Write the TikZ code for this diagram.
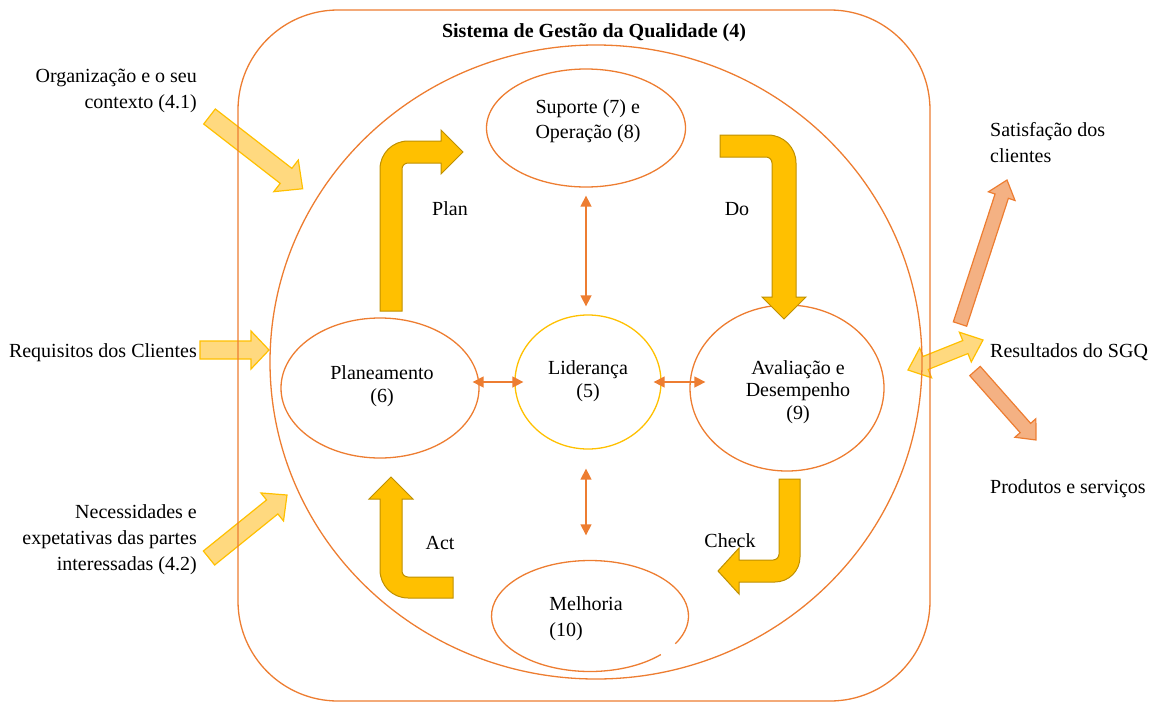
\documentclass[tikz,border=0pt]{standalone}
\usepackage{fontspec}
\setmainfont{Liberation Serif}
\usetikzlibrary{arrows.meta,shapes.geometric}
\definecolor{orng}{HTML}{ED7D31}
\definecolor{gold}{HTML}{FFC000}
\definecolor{goldline}{HTML}{BF9000}
\definecolor{lightgold}{HTML}{FFD97F}
\definecolor{salmon}{HTML}{F4B183}
\newcommand\blockarr[8]{%
  \pgfmathsetmacro\myDX{#4-#2}\pgfmathsetmacro\myDY{#5-#3}%
  \pgfmathsetmacro\myANG{atan2(-\myDY,\myDX)}%
  \pgfmathsetmacro\myLEN{veclen(\myDX,\myDY)}%
  \pgfmathsetmacro\mySW{#6/2}\pgfmathsetmacro\myHW{#7/2}\pgfmathsetmacro\myB{\myLEN-#8}%
  \begin{scope}[shift={(#2,#3)},rotate=\myANG]
  \draw[#1] (0,-\mySW) -- (\myB,-\mySW) -- (\myB,-\myHW) -- (\myLEN,0) -- (\myB,\myHW) -- (\myB,\mySW) -- (0,\mySW) -- cycle;
  \end{scope}}
\newcommand\dblarr[8]{%
  \pgfmathsetmacro\myDX{#4-#2}\pgfmathsetmacro\myDY{#5-#3}%
  \pgfmathsetmacro\myANG{atan2(-\myDY,\myDX)}%
  \pgfmathsetmacro\myLEN{veclen(\myDX,\myDY)}%
  \pgfmathsetmacro\mySW{#6/2}\pgfmathsetmacro\myHW{#7/2}\pgfmathsetmacro\myB{\myLEN-#8}%
  \begin{scope}[shift={(#2,#3)},rotate=\myANG]
  \draw[#1] (0,0) -- (#8,-\myHW) -- (#8,-\mySW) -- (\myB,-\mySW) -- (\myB,-\myHW) -- (\myLEN,0) -- (\myB,\myHW) -- (\myB,\mySW) -- (#8,\mySW) -- (#8,\myHW) -- cycle;
  \end{scope}}
\begin{document}
\begin{tikzpicture}[x=1pt,y=-1pt,
  every node/.style={font=\fontsize{20}{26}\selectfont, inner sep=0pt},
  lightarr/.style={draw=gold, fill=lightgold, line width=1.2},
  salarr/.style={draw=orng, fill=salmon, line width=1.2},
  goldarr/.style={draw=goldline, fill=gold, line width=1},
  ell/.style={ellipse, draw=orng, line width=1.3, inner sep=0pt},
  conn/.style={orng, line width=1.5, {Triangle[length=11pt,width=11pt]}-{Triangle[length=11pt,width=11pt]}},
  tight/.style={font=\fontsize{20}{22.5}\selectfont}]
\useasboundingbox (0,0) rectangle (1159,702);
% input / output block arrows
\blockarr{lightarr}{209.5}{116.5}{303}{189}{19}{40}{21}
\blockarr{lightarr}{200}{350}{269}{350}{18}{38}{18}
\blockarr{lightarr}{209}{558}{287}{495}{18}{36}{19}
\dblarr{lightarr}{908}{370}{983}{340}{14}{32}{19}
\blockarr{salarr}{960}{324}{1007}{180}{14}{28}{17}
\blockarr{salarr}{975}{371}{1036}{440}{14}{28}{16}
% frames
\draw[orng, line width=1.3, rounded corners=100] (238,10) rectangle (930,701);
\node[ell, minimum width=652, minimum height=634] (sgq) at (596,362) {};
\node[font=\fontsize{20}{26}\selectfont\bfseries] (title) at (594,33) {Sistema de Gestão da Qualidade (4)};
% process ellipses
\node[ell, minimum width=199, minimum height=118] (sup) at (586,128) {};
\node[ell, draw=gold, minimum width=146, minimum height=134] (lid) at (588,382) {};
\node[ell, minimum width=198, minimum height=140] (plan) at (380,388) {};
\node[ell, minimum width=194, minimum height=166] (ava) at (787,388) {};
\node[ellipse, inner sep=0pt, minimum width=197, minimum height=111] (mel) at (590,616) {};
\draw[orng, line width=1.3] ([shift={(44:98.5 and 55.5)}]mel.center) arc[start angle=44, end angle=390, x radius=98.5, y radius=55.5];
% texts in ellipses
\node[align=left, font=\fontsize{20}{25}\selectfont] (supt) at (588,121) {Suporte (7) e\\Operação (8)};
\node[align=center, tight] (lidt) at (588,381) {Liderança\\(5)};
\node[align=center, tight] (plant) at (382,386) {Planeamento\\(6)};
\node[align=center, tight] (avat) at (798,392) {Avaliação e\\Desempenho\\(9)};
\node[align=left] (melt) at (586,619) {Melhoria\\(10)};
% PDCA bent arrows
\draw[goldarr] (380,311) -- (380,169) .. controls (380,153.5) and (392.5,141) .. (408,141) -- (441,141) -- (441,130) -- (463,152) -- (441,174) -- (441,163) -- (408,163) .. controls (404.7,163) and (402,165.7) .. (402,169) -- (402,311) -- cycle;
\draw[goldarr] (720,135) -- (768,135) .. controls (783.5,135) and (796,147.5) .. (796,163) -- (796,297) -- (806,297) -- (784,319) -- (762,297) -- (772,297) -- (772,163) .. controls (772,159.7) and (769.3,157) .. (766,157) -- (720,157) -- cycle;
\draw[goldarr] (779,479) -- (800,479) -- (800,557) .. controls (800,570.8) and (788.8,582) .. (775,582) -- (739,582) -- (739,594) -- (718,571) -- (739,548) -- (739,560) -- (773,560) .. controls (776.3,560) and (779,557.3) .. (779,554) -- cycle;
\draw[goldarr] (453,577) -- (453,598) -- (408,598) .. controls (392.5,598) and (380,585.5) .. (380,570) -- (380,499) -- (369,499) -- (391,477) -- (413,499) -- (402,499) -- (402,571) .. controls (402,574.3) and (404.7,577) .. (408,577) -- cycle;
\node (plab) at (450,209) {Plan};
\node (dlab) at (737,209) {Do};
\node (clab) at (730,541) {Check};
\node (alab) at (440,543) {Act};
% connectors to leadership
\draw[conn, shorten <=8pt, shorten >=8pt] (sup.south) -- (sup.south |- lid.north);
\draw[conn, shorten <=19pt, shorten >=25pt] (lid.south -| sup.south) -- (mel.north -| sup.south);
\draw[conn, shorten <=-7pt, shorten >=-9pt] (plan.east |- lid.west) -- (lid.west);
\draw[conn, shorten <=-8pt, shorten >=-16pt] (lid.east) -- (lid.east -| ava.west);
% outside texts
\node[align=right, anchor=east] (org) at (197,91) {Organização e o seu\\contexto (4.1)};
\node[anchor=east] (req) at (197,353) {Requisitos dos Clientes};
\node[align=right, anchor=east] (nec) at (197,540) {Necessidades e\\expetativas das partes\\interessadas (4.2)};
\node[align=left, anchor=west] (sat) at (990,143) {Satisfação dos\\clientes};
\node[anchor=west] (res) at (990,352) {Resultados do SGQ};
\node[anchor=west] (prod) at (990,489) {Produtos e serviços};
\end{tikzpicture}
\end{document}
